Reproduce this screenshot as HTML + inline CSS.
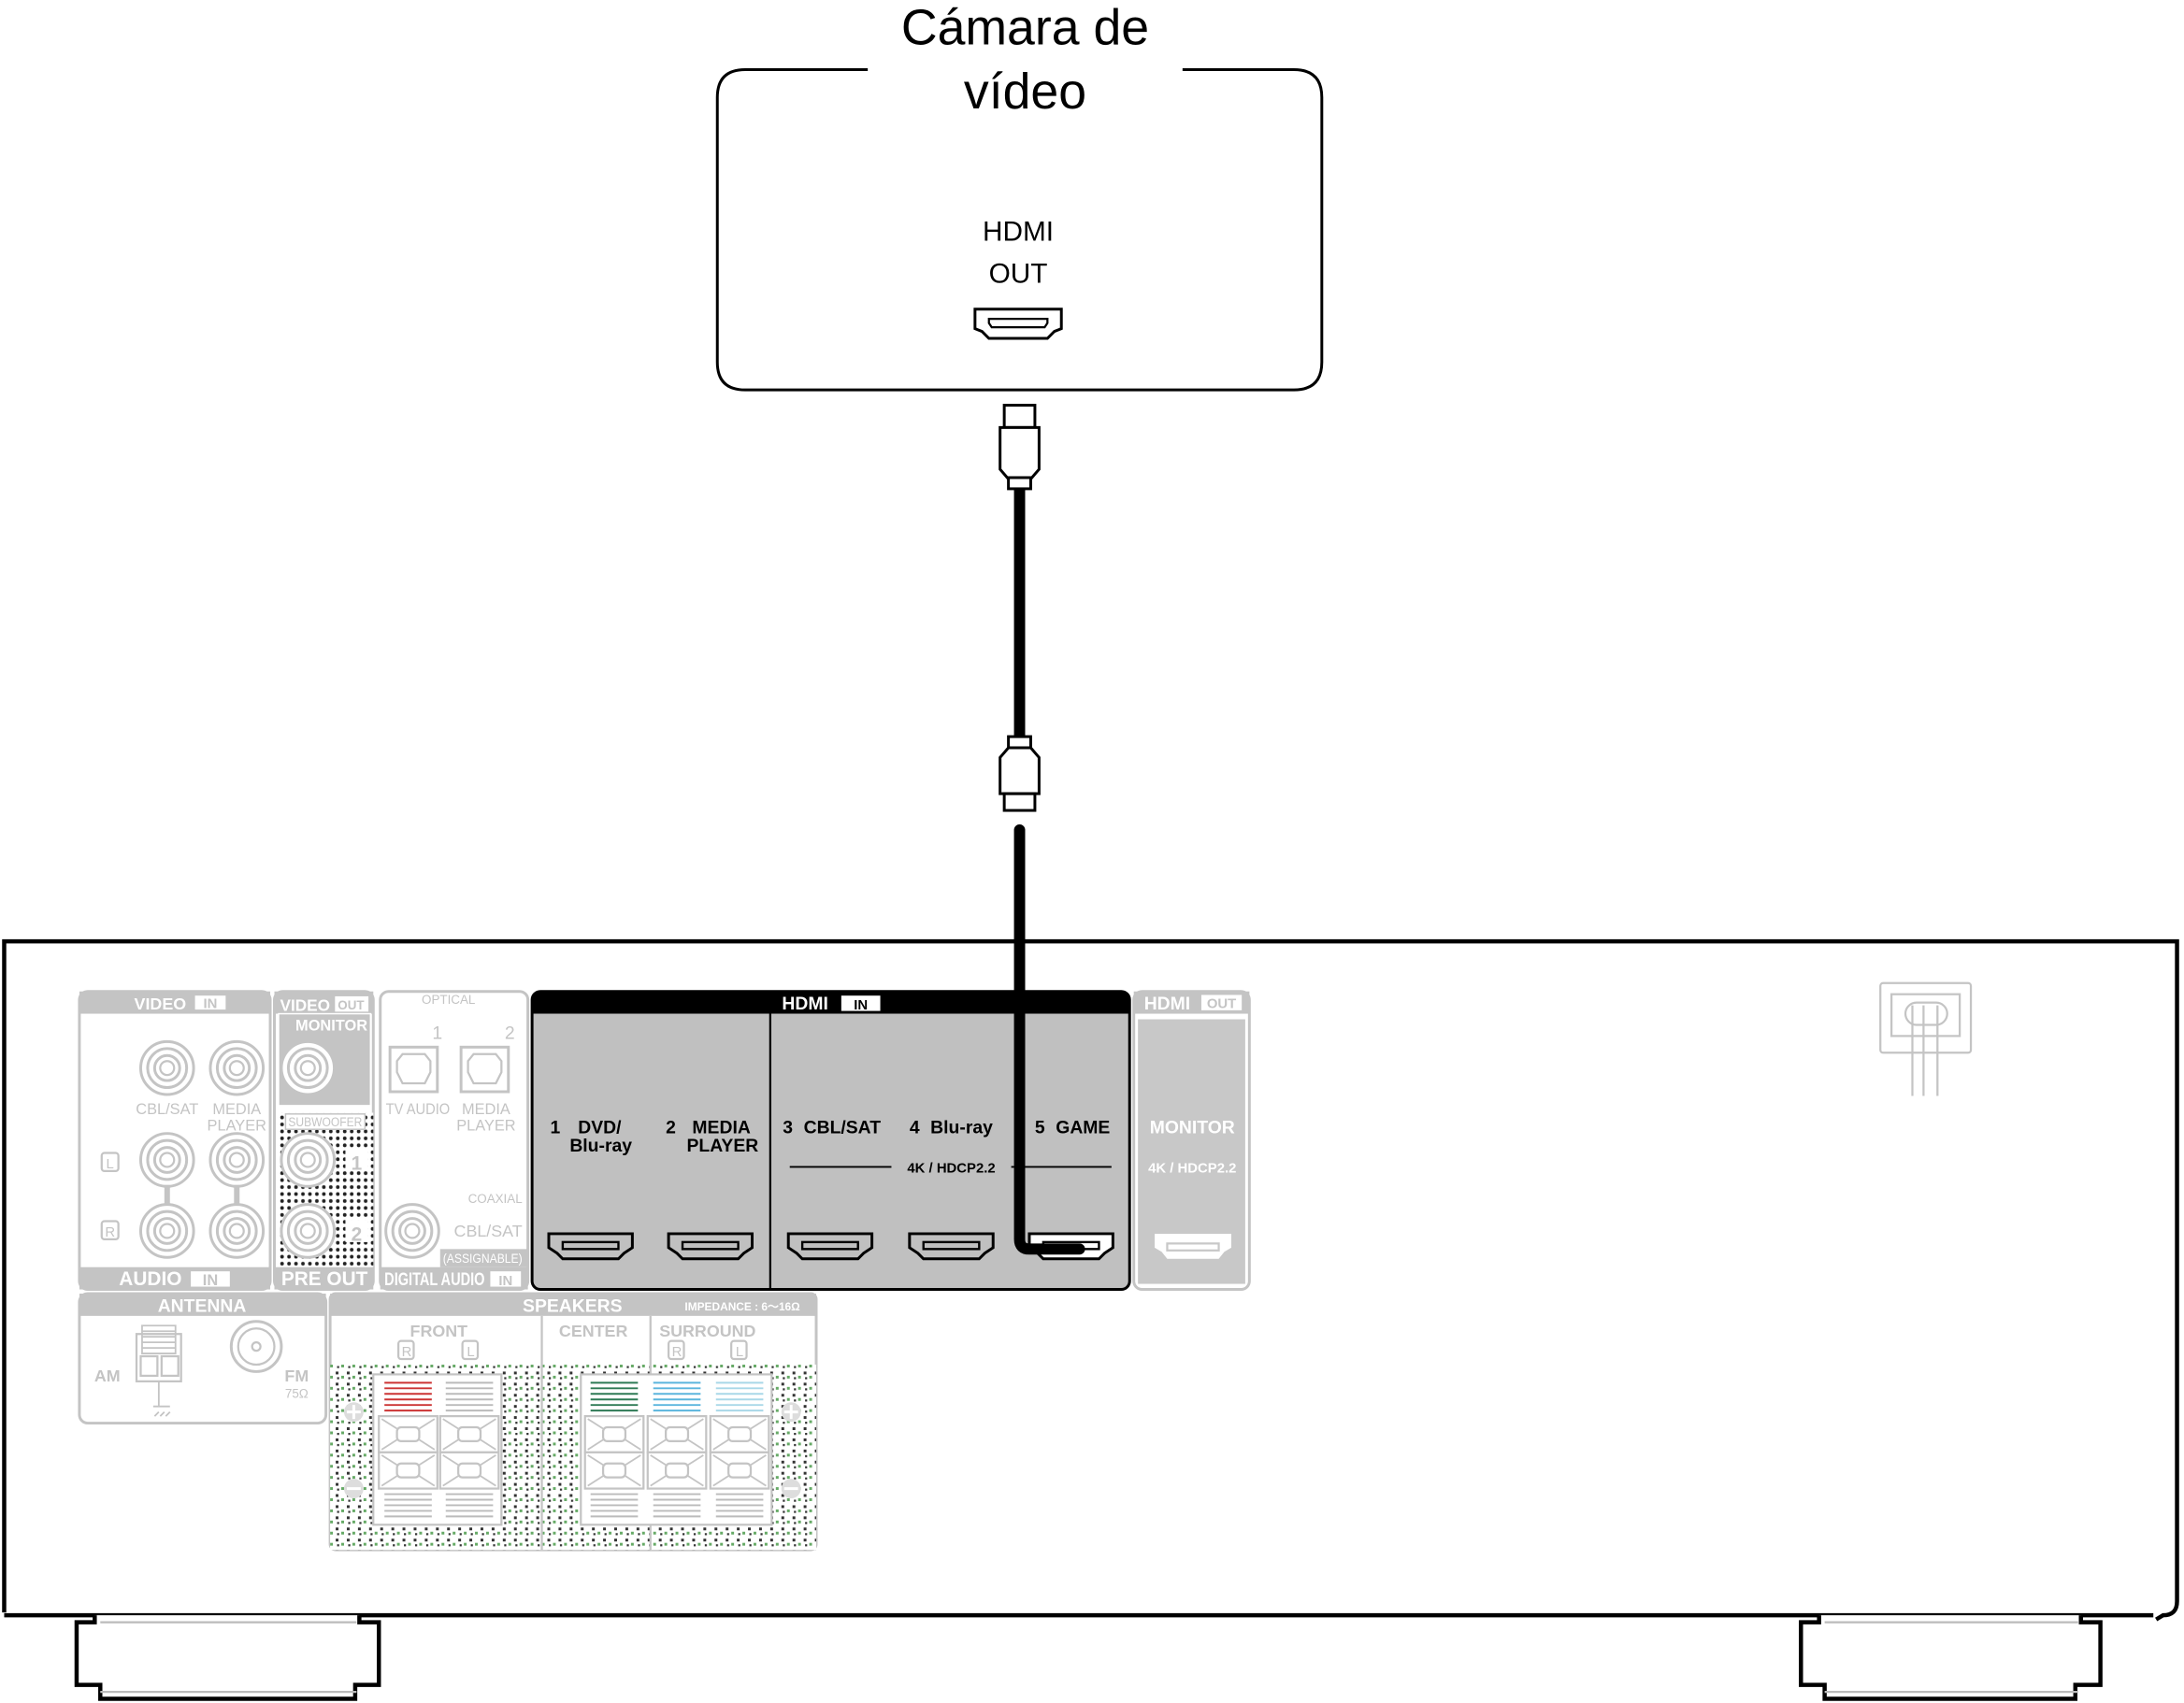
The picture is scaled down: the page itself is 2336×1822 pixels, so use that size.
<!DOCTYPE html>
<html><head><meta charset="utf-8"><style>
html,body{margin:0;padding:0;background:#fff}
svg{display:block}
text{font-family:"Liberation Sans Narrow","Liberation Sans",sans-serif}
</style></head><body>
<svg width="2336" height="1822" viewBox="0 0 1568 1223" xmlns="http://www.w3.org/2000/svg">
<defs>
<pattern id="dots" width="5" height="5" patternUnits="userSpaceOnUse"><rect width="5" height="5" fill="#fff"/><circle cx="2.5" cy="2.5" r="1.3" fill="#222"/></pattern>
<pattern id="spk" width="8" height="8" patternUnits="userSpaceOnUse"><rect width="8" height="8" fill="#fff"/><rect x="1" y="1" width="2" height="2" fill="#333"/><rect x="5" y="4" width="2" height="2" fill="#6a6"/><rect x="2" y="5" width="1.5" height="1.5" fill="#333"/></pattern>
<g id="hport"><path d="M-30,-10 h60 v10 l-6,4 l-4,4 h-40 l-4,-4 l-6,-4 z" fill="#fff" stroke="#000" stroke-width="2"/><rect x="-20" y="-4" width="40" height="5" fill="none" stroke="#000" stroke-width="1.6"/></g>
<g id="hportg"><path d="M-30,-10 h60 v10 l-6,4 l-4,4 h-40 l-4,-4 l-6,-4 z" fill="#c0c0c0" stroke="#000" stroke-width="2"/><rect x="-20" y="-4" width="40" height="5" fill="none" stroke="#000" stroke-width="1.6"/></g>
<g id="jack"><circle r="19" fill="#fff" stroke="#c4c4c4" stroke-width="2"/><circle r="14" fill="none" stroke="#c4c4c4" stroke-width="2"/><circle r="9" fill="none" stroke="#c4c4c4" stroke-width="2"/><circle r="5" fill="none" stroke="#c4c4c4" stroke-width="1.5"/></g>
<g id="term"><rect x="-21" y="-13" width="42" height="26" fill="#fff" stroke="#c4c4c4" stroke-width="1.5"/><path d="M-19,-11 L-8,-4 M19,-11 L8,-4 M-19,11 L-8,4 M19,11 L8,4" stroke="#c4c4c4" stroke-width="1.2"/><rect x="-8" y="-5" width="16" height="10" rx="3" fill="none" stroke="#c4c4c4" stroke-width="1.5"/></g>
</defs>

<!-- Camera box -->
<path d="M623,50 H535 Q515,50 515,70 V260 Q515,280 535,280 H929 Q949,280 949,260 V70 Q949,50 929,50 H849" fill="none" stroke="#000" stroke-width="2"/>
<text x="736" y="32" font-size="36" text-anchor="middle">Cámara de</text>
<text x="736" y="78" font-size="36" text-anchor="middle">vídeo</text>
<text x="731" y="173" font-size="20" text-anchor="middle">HDMI</text>
<text x="731" y="203" font-size="20" text-anchor="middle">OUT</text>
<path d="M700,222 h62 v14 l-5,2 l-5,5 h-42 l-5,-5 l-5,-2 z" fill="#fff" stroke="#000" stroke-width="2"/>
<path d="M710,229 h42 v3 l-2,3 h-38 l-2,-3 z" fill="none" stroke="#000" stroke-width="1.5"/>

<!-- Cable -->
<rect x="721" y="291" width="22" height="16" fill="#fff" stroke="#000" stroke-width="2"/>
<path d="M718,307 h28 v30 l-6,7 h-16 l-6,-7 z" fill="#fff" stroke="#000" stroke-width="2"/>
<rect x="724" y="343" width="16" height="8" fill="#fff" stroke="#000" stroke-width="2"/>
<rect x="728" y="351" width="8" height="179" fill="#000"/>
<rect x="724" y="529" width="16" height="8" fill="#fff" stroke="#000" stroke-width="2"/>
<path d="M718,570 h28 v-26 l-6,-7 h-16 l-6,7 z" fill="#fff" stroke="#000" stroke-width="2"/>
<rect x="721" y="570" width="22" height="12" fill="#fff" stroke="#000" stroke-width="2"/>

<!-- Receiver body -->
<path d="M3,1158 V676 H1563 V1150 Q1563,1160 1553,1160 L1548,1163 M1546,1160 H3" fill="none" stroke="#000" stroke-width="3"/>
<!-- feet -->
<path d="M68,1160 V1165 H55 V1210 H72 V1220 H255 V1210 H272 V1165 H258 V1160" fill="#fff" stroke="#000" stroke-width="3"/>
<line x1="72" y1="1165" x2="256" y2="1165" stroke="#bbb" stroke-width="1.5"/>
<line x1="72" y1="1215" x2="256" y2="1215" stroke="#bbb" stroke-width="1.5"/>
<path d="M1306,1160 V1165 H1293 V1210 H1310 V1220 H1490 V1210 H1508 V1165 H1494 V1160" fill="#fff" stroke="#000" stroke-width="3"/>
<line x1="1310" y1="1165" x2="1492" y2="1165" stroke="#bbb" stroke-width="1.5"/>
<line x1="1310" y1="1215" x2="1492" y2="1215" stroke="#bbb" stroke-width="1.5"/>

<!-- power inlet -->
<g stroke="#c4c4c4" stroke-width="1.5" fill="none">
<rect x="1350" y="706" width="65" height="50" rx="2"/>
<rect x="1358" y="714" width="49" height="30"/>
<rect x="1368" y="720" width="30" height="16" rx="8"/>
<path d="M1373,722 V787 M1381,722 V787 M1391,722 V787"/>
</g>

<!-- VIDEO IN / AUDIO IN panel -->
<rect x="57" y="712" width="137" height="214" rx="6" fill="#fff" stroke="#c4c4c4" stroke-width="2"/>
<rect x="57" y="712" width="137" height="16" fill="#c4c4c4"/>
<rect x="57" y="910" width="137" height="16" fill="#c4c4c4"/>
<text x="115" y="725" font-size="12" font-weight="bold" fill="#fff" text-anchor="middle">VIDEO</text>
<rect x="140" y="715" width="22" height="10" fill="#fff"/><text x="151" y="724" font-size="10" font-weight="bold" fill="#c4c4c4" text-anchor="middle">IN</text>
<text x="108" y="923" font-size="14" font-weight="bold" fill="#fff" text-anchor="middle">AUDIO</text>
<rect x="137" y="913" width="28" height="11" fill="#fff"/><text x="151" y="923" font-size="11" font-weight="bold" fill="#c4c4c4" text-anchor="middle">IN</text>
<use href="#jack" x="120" y="767"/><use href="#jack" x="170" y="767"/>
<use href="#jack" x="120" y="833"/><use href="#jack" x="170" y="833"/>
<use href="#jack" x="120" y="884"/><use href="#jack" x="170" y="884"/>
<rect x="118" y="851" width="4" height="14" fill="#c4c4c4"/><rect x="168" y="851" width="4" height="14" fill="#c4c4c4"/>
<g font-size="11" fill="#c4c4c4" text-anchor="middle"><text x="120" y="800">CBL/SAT</text><text x="170" y="800">MEDIA</text><text x="170" y="812">PLAYER</text></g>
<rect x="73" y="828" width="12" height="13" rx="2" fill="none" stroke="#c4c4c4" stroke-width="1.5"/><text x="79" y="839" font-size="10" fill="#c4c4c4" text-anchor="middle">L</text>
<rect x="73" y="877" width="12" height="13" rx="2" fill="none" stroke="#c4c4c4" stroke-width="1.5"/><text x="79" y="888" font-size="10" fill="#c4c4c4" text-anchor="middle">R</text>

<!-- VIDEO OUT / PRE OUT -->
<rect x="197" y="712" width="71" height="214" rx="6" fill="#fff" stroke="#c4c4c4" stroke-width="2"/>
<rect x="197" y="712" width="71" height="16" fill="#c4c4c4"/>
<text x="201" y="726" font-size="12" font-weight="bold" fill="#fff" textLength="36" lengthAdjust="spacingAndGlyphs">VIDEO</text>
<rect x="240" y="715" width="25" height="12" fill="#fff" stroke="#c4c4c4"/><text x="252" y="725" font-size="9" font-weight="bold" fill="#c4c4c4" text-anchor="middle">OUT</text>
<rect x="200" y="728" width="66" height="66" fill="#c4c4c4" stroke="#fff" stroke-width="1"/>
<text x="238" y="740" font-size="11" font-weight="bold" fill="#fff" text-anchor="middle">MONITOR</text>
<use href="#jack" x="221" y="767"/>
<rect x="199" y="799" width="69" height="111" fill="url(#dots)"/>
<rect x="205" y="800" width="57" height="11" fill="#fff" stroke="#c4c4c4"/><text x="207" y="809" font-size="9" fill="#c4c4c4" textLength="53" lengthAdjust="spacingAndGlyphs">SUBWOOFER</text>
<use href="#jack" x="221" y="833"/><use href="#jack" x="221" y="884"/>
<rect x="248" y="825" width="16" height="16" fill="#fff"/><text x="256" y="840" font-size="14" font-weight="bold" fill="#c4c4c4" text-anchor="middle">1</text>
<rect x="248" y="876" width="16" height="16" fill="#fff"/><text x="256" y="891" font-size="14" font-weight="bold" fill="#c4c4c4" text-anchor="middle">2</text>
<rect x="197" y="910" width="71" height="16" fill="#c4c4c4"/>
<text x="202" y="923" font-size="14" font-weight="bold" fill="#fff" textLength="62" lengthAdjust="spacingAndGlyphs">PRE OUT</text>

<!-- DIGITAL AUDIO -->
<rect x="273" y="712" width="106" height="214" rx="6" fill="#fff" stroke="#c4c4c4" stroke-width="2"/>
<text x="322" y="721" font-size="9" fill="#c4c4c4" text-anchor="middle">OPTICAL</text>
<text x="314" y="746" font-size="13" fill="#c4c4c4" text-anchor="middle">1</text>
<text x="366" y="746" font-size="13" fill="#c4c4c4" text-anchor="middle">2</text>
<rect x="280" y="752" width="34" height="32" fill="#fff" stroke="#c4c4c4" stroke-width="2"/>
<path d="M285,762 l4,-5 h16 l4,5 v8 l-4,8 h-16 l-4,-8 z" fill="none" stroke="#c4c4c4" stroke-width="1.5"/>
<rect x="331" y="752" width="34" height="32" fill="#fff" stroke="#c4c4c4" stroke-width="2"/>
<path d="M336,762 l4,-5 h16 l4,5 v8 l-4,8 h-16 l-4,-8 z" fill="none" stroke="#c4c4c4" stroke-width="1.5"/>
<g font-size="11" fill="#c4c4c4"><text x="277" y="800" textLength="46" lengthAdjust="spacingAndGlyphs">TV AUDIO</text><text x="349" y="800" text-anchor="middle">MEDIA</text><text x="349" y="812" text-anchor="middle">PLAYER</text></g>
<text x="375" y="864" font-size="9" fill="#c4c4c4" text-anchor="end">COAXIAL</text>
<use href="#jack" x="296" y="884"/>
<text x="375" y="888" font-size="12" fill="#c4c4c4" text-anchor="end">CBL/SAT</text>
<rect x="316" y="897" width="63" height="13" fill="#c4c4c4"/>
<text x="318" y="907" font-size="9" fill="#fff" textLength="57" lengthAdjust="spacingAndGlyphs">(ASSIGNABLE)</text>
<rect x="273" y="910" width="106" height="16" fill="#c4c4c4"/>
<text x="276" y="923" font-size="13" font-weight="bold" fill="#fff" textLength="72" lengthAdjust="spacingAndGlyphs">DIGITAL AUDIO</text>
<rect x="352" y="913" width="22" height="11" fill="#fff"/><text x="363" y="923" font-size="10" font-weight="bold" fill="#c4c4c4" text-anchor="middle">IN</text>

<!-- HDMI IN -->
<rect x="382" y="712" width="429" height="214" rx="6" fill="#c0c0c0" stroke="#000" stroke-width="2"/>
<path d="M382,728 V718 Q382,712 388,712 H805 Q811,712 811,718 V728 Z" fill="#000"/>
<text x="578" y="725" font-size="13" font-weight="bold" fill="#fff" text-anchor="middle">HDMI</text>
<rect x="604" y="715" width="28" height="11" fill="#fff"/><text x="618" y="725" font-size="10" font-weight="bold" fill="#000" text-anchor="middle">IN</text>
<line x1="553" y1="728" x2="553" y2="926" stroke="#000" stroke-width="1.5"/>
<g font-size="13" font-weight="bold" fill="#000">
<text x="395" y="814">1</text><text x="415" y="814">DVD/</text><text x="409" y="827">Blu-ray</text>
<text x="478" y="814">2</text><text x="497" y="814">MEDIA</text><text x="493" y="827">PLAYER</text>
<text x="562" y="814">3</text><text x="577" y="814">CBL/SAT</text>
<text x="653" y="814">4</text><text x="668" y="814">Blu-ray</text>
<text x="743" y="814">5</text><text x="758" y="814">GAME</text>
<text x="683" y="842" font-size="10" text-anchor="middle">4K / HDCP2.2</text>
</g>
<line x1="567" y1="838" x2="640" y2="838" stroke="#000" stroke-width="1.3"/>
<line x1="726" y1="838" x2="798" y2="838" stroke="#000" stroke-width="1.3"/>
<use href="#hportg" x="424" y="896"/><use href="#hportg" x="510" y="896"/>
<use href="#hportg" x="596" y="896"/><use href="#hportg" x="683" y="896"/>
<use href="#hport" x="769" y="896"/>

<!-- cable into receiver -->
<path d="M732,596 V890 Q732,897 739,897 H775" fill="none" stroke="#000" stroke-width="8" stroke-linecap="round"/>

<!-- HDMI OUT -->
<rect x="814" y="712" width="83" height="214" rx="6" fill="#fff" stroke="#c4c4c4" stroke-width="2"/>
<rect x="814" y="712" width="83" height="16" fill="#c4c4c4"/>
<text x="838" y="725" font-size="13" font-weight="bold" fill="#fff" text-anchor="middle">HDMI</text>
<rect x="862" y="714" width="30" height="12" fill="#fff" stroke="#c4c4c4"/><text x="877" y="724" font-size="10" font-weight="bold" fill="#c4c4c4" text-anchor="middle">OUT</text>
<rect x="817" y="732" width="77" height="190" fill="#c8c8c8"/>
<text x="856" y="814" font-size="13" font-weight="bold" fill="#fff" text-anchor="middle">MONITOR</text>
<text x="856" y="842" font-size="10" font-weight="bold" fill="#fff" text-anchor="middle">4K / HDCP2.2</text>
<path d="M829,886 h55 v10 l-5,3 l-4,5 h-37 l-4,-5 l-5,-3 z" fill="#fff"/>
<rect x="838" y="893" width="37" height="5" fill="none" stroke="#c8c8c8" stroke-width="1.5"/>

<!-- ANTENNA -->
<rect x="57" y="929" width="177" height="93" rx="6" fill="#fff" stroke="#c4c4c4" stroke-width="2"/>
<rect x="57" y="929" width="177" height="16" fill="#c4c4c4"/>
<text x="145" y="942" font-size="13" font-weight="bold" fill="#fff" text-anchor="middle">ANTENNA</text>
<text x="77" y="992" font-size="12" font-weight="bold" fill="#c4c4c4" text-anchor="middle">AM</text>
<rect x="98" y="958" width="32" height="34" fill="#fff" stroke="#c4c4c4" stroke-width="1.5"/>
<path d="M102,952 h24 v20 h-24 z M102,956 h24 M102,960 h24 M102,964 h24 M102,968 h24" fill="none" stroke="#c4c4c4" stroke-width="1.2"/>
<rect x="101" y="974" width="12" height="14" fill="none" stroke="#c4c4c4" stroke-width="1.5"/><rect x="116" y="974" width="12" height="14" fill="none" stroke="#c4c4c4" stroke-width="1.5"/>
<path d="M114,992 V1010 M110,1010 h12 M114,1014 l-3,3 M118,1014 l-3,3 M122,1014 l-3,3" stroke="#c4c4c4" stroke-width="1.2"/>
<circle cx="184" cy="967" r="18" fill="none" stroke="#c4c4c4" stroke-width="2"/><circle cx="184" cy="967" r="13" fill="none" stroke="#c4c4c4" stroke-width="1.5"/><circle cx="184" cy="967" r="3" fill="none" stroke="#c4c4c4" stroke-width="1.5"/>
<text x="213" y="992" font-size="12" font-weight="bold" fill="#c4c4c4" text-anchor="middle">FM</text>
<text x="213" y="1004" font-size="9" fill="#c4c4c4" text-anchor="middle">75Ω</text>

<!-- SPEAKERS -->
<rect x="237" y="929" width="349" height="184" rx="4" fill="#fff" stroke="#c4c4c4" stroke-width="2"/>
<rect x="237" y="980" width="349" height="133" fill="url(#spk)"/>
<rect x="237" y="929" width="349" height="16" fill="#c4c4c4"/>
<text x="411" y="942" font-size="13" font-weight="bold" fill="#fff" text-anchor="middle">SPEAKERS</text>
<text x="533" y="941" font-size="8" font-weight="bold" fill="#fff" text-anchor="middle">IMPEDANCE : 6～16Ω</text>
<line x1="389" y1="945" x2="389" y2="1113" stroke="#c4c4c4" stroke-width="1.5"/>
<line x1="467" y1="945" x2="467" y2="1113" stroke="#c4c4c4" stroke-width="1.5"/>
<g font-size="12" font-weight="bold" fill="#c4c4c4" text-anchor="middle">
<text x="315" y="960">FRONT</text><text x="426" y="960">CENTER</text><text x="508" y="960">SURROUND</text>
</g>
<g fill="none" stroke="#c4c4c4" stroke-width="1.5"><rect x="286" y="963" width="11" height="13" rx="2"/><rect x="332" y="963" width="11" height="13" rx="2"/><rect x="480" y="963" width="11" height="13" rx="2"/><rect x="525" y="963" width="11" height="13" rx="2"/></g>
<g font-size="10" fill="#c4c4c4" text-anchor="middle"><text x="292" y="974">R</text><text x="338" y="974">L</text><text x="486" y="974">R</text><text x="531" y="974">L</text></g>
<rect x="268" y="987" width="92" height="108" fill="#fff" stroke="#c4c4c4" stroke-width="1.5"/>
<rect x="417" y="987" width="137" height="108" fill="#fff" stroke="#c4c4c4" stroke-width="1.5"/>
<g stroke-width="1.3">
<g stroke="#cc3333"><path d="M276,993 h34 M276,997 h34 M276,1001 h34 M276,1005 h34 M276,1009 h34 M276,1013 h34"/></g>
<g stroke="#bbb"><path d="M320,993 h34 M320,997 h34 M320,1001 h34 M320,1005 h34 M320,1009 h34 M320,1013 h34"/></g>
<g stroke="#2e7a55"><path d="M424,993 h34 M424,997 h34 M424,1001 h34 M424,1005 h34 M424,1009 h34 M424,1013 h34"/></g>
<g stroke="#5bb5dd"><path d="M469,993 h34 M469,997 h34 M469,1001 h34 M469,1005 h34 M469,1009 h34 M469,1013 h34"/></g>
<g stroke="#a9d8e8"><path d="M514,993 h34 M514,997 h34 M514,1001 h34 M514,1005 h34 M514,1009 h34 M514,1013 h34"/></g>
<g stroke="#bbb"><path d="M276,1073 h34 M276,1077 h34 M276,1081 h34 M276,1085 h34 M276,1089 h34 M320,1073 h34 M320,1077 h34 M320,1081 h34 M320,1085 h34 M320,1089 h34 M424,1073 h34 M424,1077 h34 M424,1081 h34 M424,1085 h34 M424,1089 h34 M469,1073 h34 M469,1077 h34 M469,1081 h34 M469,1085 h34 M469,1089 h34 M514,1073 h34 M514,1077 h34 M514,1081 h34 M514,1085 h34 M514,1089 h34"/></g>
</g>
<use href="#term" x="293" y="1030"/><use href="#term" x="337" y="1030"/>
<use href="#term" x="293" y="1056"/><use href="#term" x="337" y="1056"/>
<use href="#term" x="441" y="1030"/><use href="#term" x="486" y="1030"/><use href="#term" x="531" y="1030"/>
<use href="#term" x="441" y="1056"/><use href="#term" x="486" y="1056"/><use href="#term" x="531" y="1056"/>
<g fill="#ddd"><circle cx="254" cy="1014" r="7"/><circle cx="254" cy="1069" r="7"/><circle cx="568" cy="1014" r="7"/><circle cx="568" cy="1069" r="7"/></g>
<g stroke="#fff" stroke-width="2"><path d="M249,1014 h10 M254,1009 v10 M249,1069 h10 M563,1014 h10 M568,1009 v10 M563,1069 h10"/></g>
</svg>
</body></html>
